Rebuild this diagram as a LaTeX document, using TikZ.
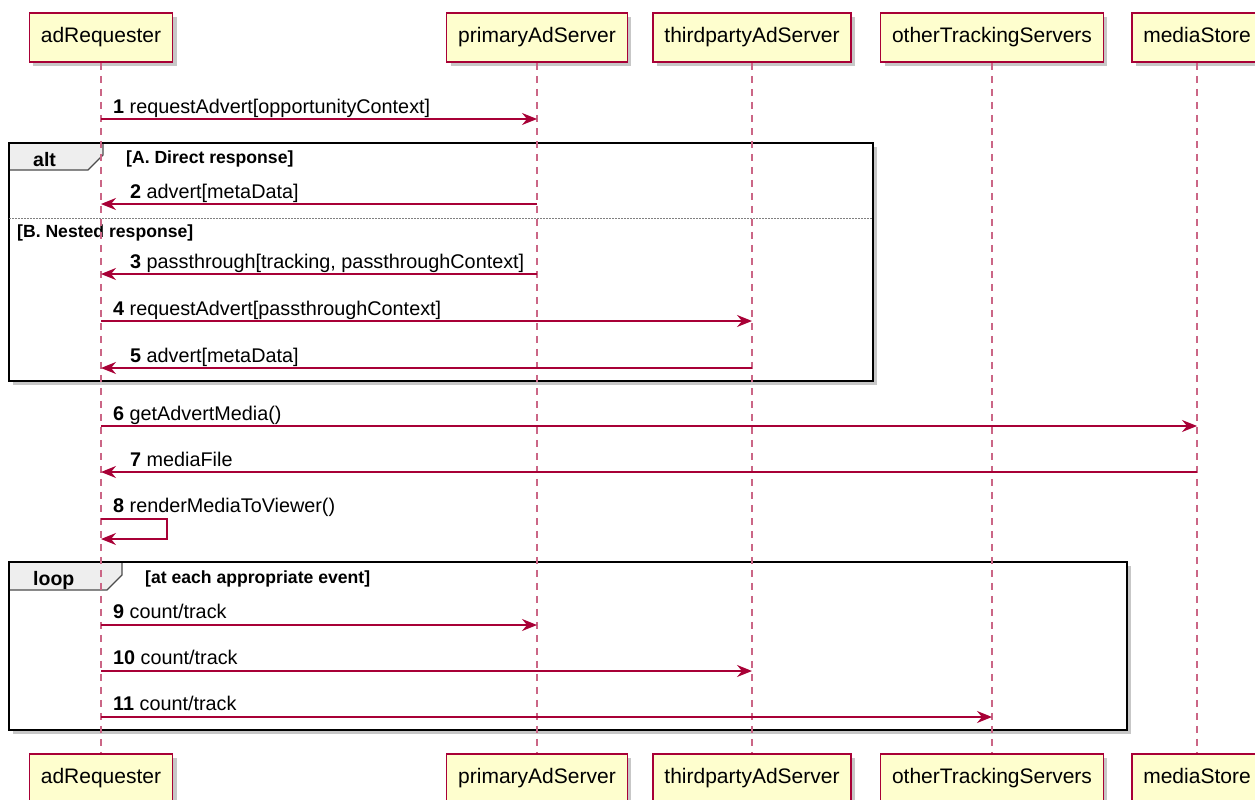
\documentclass[tikz,border=0pt]{standalone}
\usepackage{fontspec}
\setmainfont{Liberation Sans}
\usetikzlibrary{arrows.meta,shadows}
\definecolor{umlred}{HTML}{A80036}
\definecolor{umlfill}{HTML}{FEFECE}
\definecolor{tabgray}{HTML}{EEEEEE}
\tikzset{
  actor/.style={draw=umlred, fill=umlfill, line width=1.5pt, minimum height=49pt,
    inner xsep=11.5pt, text height=15pt, text depth=4.5pt, font=\fontsize{21}{25}\selectfont,
    drop shadow={shadow xshift=4pt, shadow yshift=-4pt, fill=black!22, opacity=1}},
  life/.style={umlred!60!white, line width=1.5pt, dash pattern=on 7pt off 6pt},
  msg/.style={umlred, line width=1.4pt, -{Stealth[length=15pt,width=12pt,inset=5pt]}},
  lbl/.style={anchor=base west, inner sep=0pt, font=\fontsize{19.8}{23}\selectfont},
  grd/.style={anchor=base west, inner sep=0pt, font=\bfseries\fontsize{17.6}{21}\selectfont},
  frmbg/.style={fill=white, drop shadow={shadow xshift=4pt, shadow yshift=-4pt, fill=black!22, opacity=1}},
  frm/.style={draw=black, line width=2pt},
  tab/.style={draw=black!70, line width=1.2pt, fill=tabgray},
}
\begin{document}
\begin{tikzpicture}[x=1pt,y=-1pt]
        \useasboundingbox (0,0) rectangle (1255,800);
        %% Fragments
        \path[frmbg] (9,143) rectangle (873,381);
        \path[frmbg] (9,562) rectangle (1127,730);
        \draw[tab] (9,143) -- (103,143) -- (103,155) -- (88,170) -- (9,170) -- cycle;
        \draw[tab] (9,562) -- (122,562) -- (122,575) -- (107,590) -- (9,590) -- cycle;
        \draw[frm] (9,143) rectangle (873,381);
        \draw[frm] (9,562) rectangle (1127,730);
        \draw[gray, line width=1pt, dash pattern=on 1.5pt off 1.5pt] (9,218) -- (873,218);
        \node[anchor=base west, inner sep=0pt, font=\bfseries\fontsize{19.5}{23}\selectfont] (altlbl) at (33,166) {alt};
        \node[anchor=base west, inner sep=0pt, font=\bfseries\fontsize{19.5}{23}\selectfont] (looplbl) at (33,585) {loop};
        \node[grd] (grdA) at (126,163) {[A. Direct response]};
        \node[grd] (grdB) at (17,237) {[B. Nested response]};
        \node[grd] (grdL) at (145,583) {[at each appropriate event]};
        %% Participants
        \node[actor] (reqT) at (101,37.5) {adRequester};
        \node[actor] (priT) at (537,37.5) {primaryAdServer};
        \node[actor] (thdT) at (752,37.5) {thirdpartyAdServer};
        \node[actor] (trkT) at (992,37.5) {otherTrackingServers};
        \node[actor] (medT) at (1197,37.5) {mediaStore};
        \node[actor] (reqB) at (101,778.5) {adRequester};
        \node[actor] (priB) at (537,778.5) {primaryAdServer};
        \node[actor] (thdB) at (752,778.5) {thirdpartyAdServer};
        \node[actor] (trkB) at (992,778.5) {otherTrackingServers};
        \node[actor] (medB) at (1197,778.5) {mediaStore};
        %% Lifelines
        \draw[life] (reqT.south) -- (reqB.north);
        \draw[life] (priT.south) -- (priB.north);
        \draw[life] (thdT.south) -- (thdB.north);
        \draw[life] (trkT.south) -- (trkB.north);
        \draw[life] (medT.south) -- (medB.north);
        %% Messages
        \draw[msg] (reqT |- 0,119) -- (priT |- 0,119);
        \node[lbl] (m1) at (113,113) {\textbf{1} requestAdvert[opportunityContext]};
        \draw[msg] (priT |- 0,204) -- (reqT |- 0,204);
        \node[lbl] (m2) at (130,198) {\textbf{2} advert[metaData]};
        \draw[msg] (priT |- 0,274) -- (reqT |- 0,274);
        \node[lbl] (m3) at (130,268) {\textbf{3} passthrough[tracking, passthroughContext]};
        \draw[msg] (reqT |- 0,321) -- (thdT |- 0,321);
        \node[lbl] (m4) at (113,315) {\textbf{4} requestAdvert[passthroughContext]};
        \draw[msg] (thdT |- 0,368) -- (reqT |- 0,368);
        \node[lbl] (m5) at (130,362) {\textbf{5} advert[metaData]};
        \draw[msg] (reqT |- 0,426) -- (medT |- 0,426);
        \node[lbl] (m6) at (113,420) {\textbf{6} getAdvertMedia()};
        \draw[msg] (medT |- 0,472) -- (reqT |- 0,472);
        \node[lbl] (m7) at (130,466) {\textbf{7} mediaFile};
        %% Self call
        \coordinate (selfA) at (167,519);
        \coordinate (selfB) at (167,539);
        \draw[msg] (reqT |- selfA) -- (selfA) -- (selfB) -- (reqT |- selfB);
        \node[lbl] (m8) at (113,512) {\textbf{8} renderMediaToViewer()};
        %% Tracking loop
        \draw[msg] (reqT |- 0,625) -- (priT |- 0,625);
        \node[lbl] (m9) at (113,618) {\textbf{9} count/track};
        \draw[msg] (reqT |- 0,671) -- (thdT |- 0,671);
        \node[lbl] (m10) at (113,664) {\textbf{10} count/track};
        \draw[msg] (reqT |- 0,717) -- (trkT |- 0,717);
        \node[lbl] (m11) at (113,710) {\textbf{11} count/track};
    \end{tikzpicture}
\end{document}
